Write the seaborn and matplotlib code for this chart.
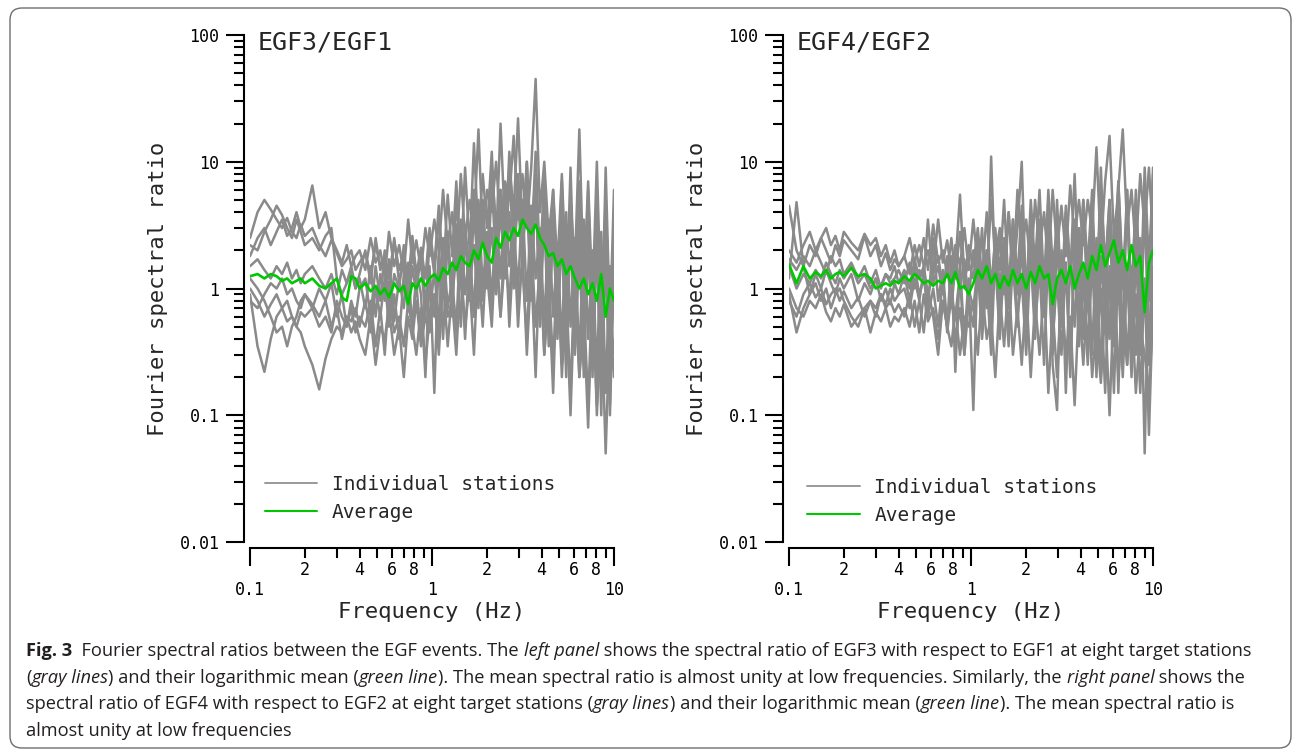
import numpy as np
import pandas as pd
import matplotlib
matplotlib.use("Agg")
import matplotlib.pyplot as plt
import seaborn as sns
from matplotlib.lines import Line2D
from matplotlib.patches import FancyBboxPatch
from matplotlib.transforms import IdentityTransform

# ---- data ----
freq = [0.10, 0.11, 0.12, 0.13, 0.14, 0.15, 0.16, 0.17, 0.18, 0.19, 0.20,
        0.22, 0.24, 0.26, 0.28, 0.30, 0.32, 0.34, 0.36, 0.38, 0.40,
        0.43, 0.46, 0.49, 0.52, 0.55, 0.58, 0.62, 0.66, 0.70, 0.74, 0.78,
        0.82, 0.87, 0.92, 0.97,
        1.03, 1.09, 1.15, 1.22, 1.29, 1.36, 1.44, 1.52, 1.61, 1.70, 1.80,
        1.90, 2.01, 2.13, 2.25, 2.38, 2.52, 2.66, 2.81, 2.97, 3.14, 3.32,
        3.51, 3.71, 3.92, 4.14, 4.38, 4.63, 4.89, 5.17, 5.46, 5.77, 6.10,
        6.45, 6.82, 7.21, 7.62, 8.05, 8.51, 9.00, 9.50, 10.0]

# EGF3 / EGF1, eight stations
egf31_stations = [
    [2.5, 4.0, 5.0, 4.2, 3.5, 3.0, 3.6, 2.8, 2.5, 3.2, 2.6, 3.0, 2.2, 1.8, 2.4, 1.9, 1.5, 1.7, 2.0, 1.4, 1.6,
     1.9, 1.3, 2.2, 1.5, 1.8, 1.2, 2.4, 1.4, 1.9, 1.1, 2.6, 1.3, 2.1, 1.2, 3.0,
     1.5, 4.5, 1.2, 5.5, 1.8, 7.0, 1.5, 9.0, 2.0, 14, 2.5, 8.0, 3.0, 12, 2.2, 20, 3.0, 9.0, 4.0, 22,
     3.0, 10, 2.0, 12, 1.5, 8.0, 1.0, 6.0, 0.8, 7.0, 0.7, 9.0, 0.6, 5.0, 0.5, 6.0, 0.4, 4.0, 0.3, 9.0, 0.5, 3.0],
    [0.9, 0.35, 0.22, 0.4, 0.6, 0.7, 0.55, 0.6, 0.5, 0.65, 0.6, 0.7, 0.5, 0.6, 0.45, 0.8, 0.6, 0.5, 0.7, 0.45, 0.6,
     0.5, 0.8, 0.35, 0.7, 0.3, 0.9, 0.45, 0.6, 0.35, 0.8, 0.5, 0.3, 0.7, 0.25, 0.6,
     0.9, 0.3, 1.2, 0.35, 1.0, 0.5, 1.6, 0.4, 2.0, 0.6, 1.5, 0.5, 2.5, 0.7, 1.8, 0.6, 3.0, 0.5, 2.2, 0.8,
     1.5, 0.4, 2.5, 0.5, 1.6, 0.3, 1.2, 0.25, 1.8, 0.2, 1.0, 0.15, 1.5, 0.2, 0.8, 0.12, 1.2, 0.1, 0.7, 0.05, 0.6, 0.2],
    [1.0, 0.8, 0.6, 0.75, 0.9, 0.7, 0.8, 0.6, 0.5, 0.45, 0.35, 0.25, 0.16, 0.28, 0.4, 0.5, 0.45, 0.6, 0.55, 0.7, 0.5,
     0.8, 0.45, 1.0, 0.6, 1.2, 0.5, 0.9, 0.4, 1.3, 0.7, 0.55, 1.1, 0.4, 0.9, 0.6,
     1.4, 0.5, 2.5, 0.7, 1.2, 0.45, 3.5, 0.9, 2.0, 0.6, 5.0, 1.0, 2.8, 0.8, 4.0, 1.2, 6.0, 1.5, 3.0, 1.0,
     5.0, 0.8, 4.5, 1.2, 3.0, 0.5, 3.5, 0.6, 2.2, 0.35, 4.0, 0.5, 2.5, 0.25, 3.5, 0.4, 2.0, 0.2, 2.8, 0.15, 1.5, 1.0],
    [1.8, 2.5, 3.0, 2.2, 2.8, 3.5, 2.6, 3.0, 4.0, 3.0, 3.5, 6.5, 3.0, 4.0, 2.5, 2.0, 1.6, 2.2, 1.5, 1.8, 2.0,
     1.4, 2.5, 1.6, 2.0, 1.2, 2.8, 1.5, 2.2, 1.3, 3.5, 1.6, 2.4, 1.4, 3.0, 1.8,
     3.5, 2.0, 6.0, 2.2, 4.0, 1.8, 8.0, 2.5, 5.0, 3.0, 18, 2.5, 6.0, 4.0, 10, 3.0, 7.0, 5.0, 16, 3.5,
     8.0, 3.0, 9.0, 45, 4.0, 10, 2.5, 6.0, 1.5, 8.0, 1.2, 5.0, 1.5, 18, 1.0, 7.0, 0.8, 10, 0.6, 5.0, 0.5, 6.0],
    [1.5, 1.7, 1.4, 1.2, 1.5, 1.3, 1.6, 1.2, 1.4, 1.1, 1.3, 1.5, 1.2, 1.0, 1.3, 0.9, 1.4, 1.1, 1.5, 1.0, 1.2,
     0.7, 1.5, 0.6, 1.3, 0.8, 1.7, 0.55, 1.2, 0.7, 1.6, 0.45, 1.4, 0.9, 0.2, 1.5,
     0.15, 2.0, 0.9, 2.8, 0.6, 3.2, 1.1, 2.5, 0.8, 4.0, 1.3, 3.0, 1.0, 7.0, 1.5, 4.0, 1.2, 8.0, 2.0, 5.0,
     1.5, 10, 1.2, 6.0, 0.8, 4.0, 0.5, 3.0, 0.6, 5.0, 0.25, 3.0, 0.4, 4.0, 0.2, 2.5, 0.3, 3.0, 0.15, 2.0, 0.1, 1.5],
    [1.2, 1.0, 0.8, 0.6, 0.45, 0.5, 0.35, 0.5, 0.6, 0.8, 0.9, 0.7, 1.0, 0.8, 1.1, 0.6, 0.9, 0.5, 0.8, 0.6, 1.0,
     1.2, 0.6, 1.5, 0.8, 2.0, 0.6, 1.3, 1.0, 2.2, 0.7, 1.5, 0.9, 2.0, 0.8, 1.3,
     0.6, 1.8, 0.4, 2.5, 0.8, 2.0, 0.5, 3.0, 1.0, 2.2, 0.7, 5.0, 1.2, 3.0, 0.9, 6.0, 1.5, 4.0, 1.0, 8.0,
     2.0, 5.0, 0.8, 7.0, 0.5, 4.0, 0.35, 5.0, 0.4, 3.0, 0.2, 4.0, 0.3, 2.0, 0.25, 3.5, 0.2, 2.5, 0.1, 4.0, 0.12, 2.0],
    [2.2, 2.0, 2.8, 3.5, 4.5, 3.8, 3.0, 2.5, 3.5, 2.8, 2.2, 2.5, 2.0, 2.6, 3.0, 1.2, 0.9, 1.1, 1.4, 1.0, 1.3,
     2.0, 1.1, 2.5, 1.4, 1.9, 0.9, 2.5, 1.1, 1.8, 0.8, 2.0, 1.2, 1.6, 0.6, 2.5,
     1.3, 3.5, 1.6, 2.5, 1.0, 5.0, 1.8, 3.0, 1.4, 6.0, 2.0, 4.0, 1.6, 9.0, 3.0, 6.0, 2.0, 12, 3.0, 7.0,
     2.5, 6.0, 2.0, 9.0, 1.0, 5.0, 0.8, 3.0, 0.5, 6.0, 0.4, 4.0, 0.35, 7.0, 0.3, 3.0, 0.3, 5.0, 0.2, 3.0, 0.25, 4.0],
    [0.8, 0.7, 0.9, 1.1, 1.0, 1.2, 0.9, 1.0, 0.8, 0.7, 0.9, 0.75, 0.6, 0.8, 0.5, 0.7, 0.4, 0.6, 0.45, 0.55, 0.4,
     0.3, 0.6, 0.25, 0.5, 0.4, 0.7, 0.3, 0.5, 0.2, 0.6, 0.4, 0.8, 0.35, 0.6, 0.45,
     0.9, 0.4, 1.2, 0.6, 0.8, 0.3, 1.5, 0.5, 1.1, 0.3, 2.0, 0.8, 1.3, 0.5, 2.5, 0.6, 1.8, 0.8, 3.0, 0.5,
     2.0, 0.3, 1.5, 0.2, 2.0, 0.3, 1.0, 0.15, 1.8, 0.25, 0.8, 0.1, 1.2, 0.2, 0.6, 0.08, 1.0, 0.12, 0.5, 0.2, 0.7, 0.3],
]
egf31_average = [1.25, 1.3, 1.2, 1.3, 1.25, 1.15, 1.2, 1.1, 1.15, 1.2, 1.1, 1.2, 1.05, 1.0, 1.1, 1.2, 0.85, 0.8, 1.25, 1.2, 1.0,
                 1.1, 0.95, 1.05, 0.9, 1.0, 0.85, 1.1, 0.95, 1.05, 0.75, 1.1, 1.0, 1.2, 1.05, 1.2,
                 1.3, 1.15, 1.45, 1.3, 1.6, 1.4, 1.8, 1.6, 1.5, 2.0, 1.7, 2.3, 1.8, 1.6, 2.5, 2.1, 2.8, 2.4, 3.0, 2.6,
                 3.5, 3.0, 2.7, 3.2, 2.5, 2.2, 1.8, 1.9, 1.5, 1.7, 1.3, 1.5, 1.2, 1.0, 1.2, 0.9, 1.1, 0.8, 1.3, 0.6, 1.0, 0.8]

# EGF4 / EGF2, eight stations
egf42_stations = [
    [4.5, 2.0, 1.5, 2.2, 1.8, 2.5, 2.0, 1.6, 2.2, 1.8, 2.4, 2.0, 1.7, 2.6, 1.8, 2.2, 1.5, 1.9, 1.4, 1.7, 1.5,
     1.8, 1.3, 2.2, 1.5, 2.5, 1.4, 3.2, 1.6, 2.0, 1.3, 2.5, 1.2, 2.8, 1.0, 2.2,
     1.5, 3.0, 1.2, 4.0, 1.0, 2.5, 1.4, 5.0, 1.0, 3.5, 1.2, 4.5, 0.8, 3.0, 1.5, 6.0, 1.0, 4.0, 0.6, 5.0,
     0.8, 3.0, 1.2, 8.0, 1.0, 5.0, 1.5, 6.0, 0.7, 9.0, 1.2, 5.0, 0.9, 7.0, 1.0, 6.0, 0.8, 5.0, 0.6, 9.0, 1.5, 8.0],
    [1.2, 4.8, 1.5, 0.9, 1.3, 1.0, 1.4, 1.1, 0.9, 1.2, 1.0, 1.3, 0.8, 1.1, 0.9, 1.2, 0.8, 1.0, 0.75, 1.1, 0.9,
     1.3, 0.8, 1.5, 0.9, 1.2, 0.7, 2.5, 0.8, 1.4, 0.5, 1.8, 0.22, 1.5, 0.4, 1.2,
     0.11, 2.0, 0.8, 1.6, 0.5, 2.5, 0.7, 1.8, 0.4, 3.0, 0.9, 2.0, 0.5, 4.0, 0.8, 2.5, 0.6, 3.0, 0.25, 0.11,
     2.0, 0.15, 1.8, 0.5, 3.0, 0.4, 2.0, 0.3, 2.5, 0.2, 1.8, 0.4, 3.0, 0.15, 2.0, 0.25, 1.5, 0.3, 2.5, 0.05, 1.8, 0.6],
    [0.9, 0.45, 0.7, 0.9, 1.1, 0.8, 1.0, 0.7, 0.9, 1.0, 0.8, 0.6, 0.5, 0.7, 0.8, 0.6, 0.9, 0.7, 0.8, 0.65, 0.75,
     0.6, 0.9, 0.5, 0.8, 0.45, 1.0, 0.6, 0.3, 0.8, 0.5, 0.9, 0.4, 0.7, 0.3, 0.8,
     0.5, 1.5, 0.4, 1.2, 0.3, 2.0, 0.5, 1.4, 0.35, 1.8, 0.6, 1.2, 0.3, 2.2, 0.5, 1.5, 0.25, 2.0, 0.4, 1.2,
     0.3, 1.6, 0.2, 2.0, 0.35, 1.2, 0.25, 1.8, 0.3, 1.0, 0.15, 1.5, 0.35, 1.1, 0.2, 1.4, 0.3, 0.9, 0.15, 1.2, 0.07, 0.8],
    [2.0, 1.6, 2.2, 2.8, 2.0, 2.5, 3.0, 2.2, 2.6, 2.0, 2.8, 2.3, 2.0, 2.7, 2.2, 2.5, 1.8, 2.2, 1.6, 2.0, 1.5,
     1.8, 2.5, 1.6, 2.2, 1.5, 2.0, 1.4, 3.5, 1.6, 2.4, 1.3, 2.2, 1.5, 3.0, 1.4,
     3.5, 1.5, 2.5, 1.2, 5.0, 1.8, 3.0, 1.5, 4.0, 1.2, 6.0, 2.0, 3.5, 1.4, 5.0, 2.0, 4.0, 1.5, 6.0, 2.0,
     4.5, 1.8, 6.5, 2.5, 5.0, 2.2, 5.0, 2.8, 13, 2.0, 7.0, 16, 2.5, 6.0, 18, 3.0, 6.0, 2.0, 8.0, 3.0, 9.0, 2.5],
    [1.5, 1.0, 1.3, 1.1, 1.4, 1.2, 1.6, 1.3, 1.1, 1.4, 1.2, 1.5, 1.1, 1.3, 1.0, 1.2, 1.05, 1.3, 1.1, 1.2, 1.4,
     1.1, 1.6, 1.0, 1.4, 1.2, 3.5, 1.1, 1.5, 0.9, 1.8, 0.7, 1.5, 5.5, 1.2, 1.6,
     1.2, 2.5, 0.9, 2.0, 0.6, 3.0, 1.0, 2.2, 0.7, 3.5, 1.0, 2.5, 0.8, 4.0, 1.2, 2.8, 0.6, 5.0, 1.0, 3.0,
     0.7, 4.0, 1.1, 3.5, 0.5, 4.0, 0.8, 3.0, 0.4, 5.0, 0.6, 3.5, 0.5, 4.0, 0.35, 6.0, 0.4, 3.0, 0.3, 5.0, 0.25, 4.0],
    [0.8, 0.6, 0.9, 1.1, 0.85, 1.0, 0.75, 0.9, 1.0, 0.8, 0.95, 0.7, 0.85, 0.6, 0.8, 0.7, 0.9, 0.75, 1.0, 0.8, 0.9,
     1.0, 0.7, 1.2, 0.8, 1.4, 0.6, 1.0, 0.5, 1.2, 0.45, 0.9, 0.6, 1.3, 0.3, 1.0,
     0.7, 1.5, 0.5, 2.0, 0.8, 1.6, 0.4, 2.5, 0.7, 1.5, 0.5, 2.8, 0.6, 1.8, 0.4, 2.2, 0.7, 1.5, 0.3, 2.5,
     0.5, 1.6, 0.25, 2.2, 0.6, 1.5, 0.3, 2.6, 0.2, 1.8, 0.5, 1.2, 0.15, 2.0, 0.3, 1.4, 0.2, 1.8, 0.4, 1.0, 0.3, 1.5],
    [1.7, 1.4, 1.8, 1.5, 2.0, 1.6, 1.3, 1.8, 1.5, 1.7, 1.3, 1.6, 1.2, 1.5, 1.1, 1.4, 1.0, 1.3, 1.2, 1.5, 1.1,
     1.4, 1.0, 1.7, 1.2, 1.5, 0.9, 1.3, 1.8, 1.0, 1.5, 0.8, 1.9, 1.0, 1.7, 0.8,
     2.0, 1.0, 3.0, 0.7, 11, 1.2, 2.5, 0.9, 4.0, 1.2, 3.0, 10, 0.8, 5.0, 1.5, 3.5, 1.0, 6.0, 1.5, 3.0,
     0.8, 4.5, 1.5, 3.0, 1.2, 5.0, 1.0, 4.0, 0.8, 6.0, 1.5, 5.0, 0.9, 7.0, 1.2, 4.0, 0.7, 6.0, 1.0, 4.5, 0.8, 9.0],
    [1.0, 0.7, 0.6, 0.8, 0.7, 0.9, 0.65, 0.55, 0.7, 0.6, 0.75, 0.5, 0.6, 0.7, 0.45, 0.65, 0.55, 0.7, 0.5, 0.6, 0.55,
     0.7, 0.5, 0.8, 0.45, 0.9, 0.55, 0.7, 0.4, 0.8, 0.5, 0.35, 0.7, 0.3, 0.6, 0.5,
     0.8, 0.3, 1.0, 0.4, 0.6, 0.2, 0.9, 0.35, 1.2, 0.3, 0.7, 0.25, 1.0, 0.2, 0.8, 0.3, 1.1, 0.15, 0.7, 0.2,
     0.9, 0.3, 0.6, 0.12, 0.8, 0.25, 1.0, 0.2, 0.5, 0.18, 0.7, 0.1, 0.9, 0.2, 0.6, 0.25, 0.8, 0.15, 0.5, 0.3, 0.15, 0.6],
]
egf42_average = [1.55, 1.1, 1.5, 1.2, 1.35, 1.25, 1.4, 1.2, 1.3, 1.35, 1.25, 1.45, 1.25, 1.3, 1.2, 1.0, 1.05, 1.1, 1.05, 1.15, 1.1,
                 1.25, 1.15, 1.3, 1.2, 1.1, 1.15, 1.05, 1.15, 1.1, 1.3, 1.1, 1.35, 1.0, 1.05, 0.9,
                 1.1, 1.4, 1.2, 1.5, 1.1, 1.3, 1.0, 1.25, 1.05, 1.4, 1.1, 1.3, 1.0, 1.35, 1.1, 1.5, 1.2, 1.3, 0.75, 1.2,
                 1.4, 1.1, 1.5, 1.0, 1.3, 1.6, 1.2, 1.8, 1.4, 2.2, 1.5, 1.9, 2.4, 1.6, 2.0, 1.4, 2.2, 1.5, 1.8, 0.65, 1.6, 2.0]

panel_titles = ["EGF3/EGF1", "EGF4/EGF2"]
y_ticks = [0.01, 0.1, 1, 10, 100]
y_tick_labels = ["0.01", "0.1", "1", "10", "100"]
x_ticks = [0.1, 1, 10]
x_tick_labels = ["0.1", "1", "10"]
x_minor_ticks = [0.2, 0.3, 0.4, 0.5, 0.6, 0.7, 0.8, 0.9, 2, 3, 4, 5, 6, 7, 8, 9]
x_minor_labels = ["2", "", "4", "", "6", "", "8", "", "2", "", "4", "", "6", "", "8", ""]
y_minor_ticks = [m * d for d in [0.01, 0.1, 1, 10] for m in range(2, 10)]

caption_lines = [
    [("Fig. 3", "bold"), ("  Fourier spectral ratios between the EGF events. The ", "normal"),
     ("left panel", "italic"), (" shows the spectral ratio of EGF3 with respect to EGF1 at eight target stations", "normal")],
    [("(", "normal"), ("gray lines", "italic"), (") and their logarithmic mean (", "normal"), ("green line", "italic"),
     ("). The mean spectral ratio is almost unity at low frequencies. Similarly, the ", "normal"),
     ("right panel", "italic"), (" shows the", "normal")],
    [("spectral ratio of EGF4 with respect to EGF2 at eight target stations (", "normal"), ("gray lines", "italic"),
     (") and their logarithmic mean (", "normal"), ("green line", "italic"), ("). The mean spectral ratio is", "normal")],
    [("almost unity at low frequencies", "normal")],
]

GRAY = "#8a8a8a"
GREEN = "#00c800"

sns.set_style("ticks")
plt.rcParams['font.family'] = ['DejaVu Sans Mono']
plt.rcParams['axes.edgecolor'] = 'black'
plt.rcParams['xtick.color'] = 'black'
plt.rcParams['ytick.color'] = 'black'


def long_form(stations):
    rows = []
    for s, vals in enumerate(stations):
        for f, v in zip(freq, vals):
            rows.append((f, v, s + 1))
    return pd.DataFrame(rows, columns=["Frequency", "Ratio", "Station"])


fig = plt.figure(figsize=(12.93, 7.49), dpi=100)
W, H = 1293, 749
panels = [(egf31_stations, egf31_average, 250), (egf42_stations, egf42_average, 789)]

for pp, (stations, avg, x0) in enumerate(panels):
    ax = fig.add_axes([x0 / W, (H - 542) / H, 364 / W, 507 / H])
    df = long_form(stations)
    sns.lineplot(data=df, x="Frequency", y="Ratio", units="Station", estimator=None,
                 color=GRAY, linewidth=1.8, ax=ax, legend=False)
    sns.lineplot(x=freq, y=avg, color=GREEN, linewidth=1.9, ax=ax, legend=False)
    ax.set_xscale('log')
    ax.set_yscale('log')
    ax.set_xlim(0.1, 10)
    ax.set_ylim(0.01, 100)

    ax.set_yticks(y_ticks)
    ax.set_yticklabels(y_tick_labels)
    ax.set_yticks(y_minor_ticks, minor=True)
    ax.set_yticklabels([], minor=True)
    ax.set_xticks(x_ticks)
    ax.set_xticklabels(x_tick_labels)
    ax.set_xticks(x_minor_ticks, minor=True)
    ax.set_xticklabels(x_minor_labels, minor=True)

    ax.tick_params(axis='y', which='major', length=13, width=1.5, pad=5, labelsize=12, direction='out')
    ax.tick_params(axis='y', which='minor', length=7, width=1.5, direction='out')
    ax.tick_params(axis='x', which='major', length=13, width=1.5, pad=11, labelsize=12, direction='out')
    ax.tick_params(axis='x', which='minor', length=7, width=1.5, pad=3, labelsize=12, direction='out')

    for side in ['top', 'right']:
        ax.spines[side].set_visible(False)
    for side in ['left', 'bottom']:
        ax.spines[side].set_linewidth(1.5)
        ax.spines[side].set_position(('outward', 4))
    ax.grid(False)

    ax.set_xlabel("Frequency (Hz)", fontsize=16)
    ax.set_ylabel("Fourier spectral ratio", fontsize=16)
    ax.xaxis.set_label_coords(0.5, -0.118)
    ax.yaxis.set_label_coords(-0.225, 0.5)

    ax.text(0.022, 1.008, panel_titles[pp], transform=ax.transAxes, fontsize=18,
            ha='left', va='top')

    handles = [Line2D([], [], color="#999999", lw=1.4),
               Line2D([], [], color=GREEN, lw=1.5)]
    ax.legend(handles, ["Individual stations", "Average"], loc='lower left',
              bbox_to_anchor=(0.04 if pp == 0 else 0.05, 0.04 if pp == 0 else 0.034),
              frameon=False, fontsize=14, handlelength=2.7, handletextpad=0.75,
              labelspacing=0.45, borderpad=0, borderaxespad=0)

# rounded border around figure + caption
box = FancyBboxPatch((10, 1), 1281, 740, boxstyle="round,pad=0,rounding_size=12",
                     transform=IdentityTransform(), fc='none', ec='#6e6e6e', lw=1.0)
fig.add_artist(box)

# caption with mixed styles
renderer = fig.canvas.get_renderer()
cap_family = ['Open Sans', 'DejaVu Sans']


def draw_runs(x, y, runs, size):
    for text, style in runs:
        t = fig.text(x, y, text, transform=IdentityTransform(), fontsize=size,
                     family=cap_family, color='#231f20', va='baseline', ha='left',
                     weight='bold' if style == 'bold' else 'normal',
                     style='italic' if style == 'italic' else 'normal')
        x += t.get_window_extent(renderer).width
    return x


# fit font size so first line spans as in the picture
probe = fig.text(0, 0, "".join(r[0] for r in caption_lines[0]), fontsize=12,
                 family=cap_family, transform=IdentityTransform())
w12 = probe.get_window_extent(renderer).width
probe.remove()
cap_size = 12 * 1222 / w12

baselines = [656, 683, 709, 736]
for line, yb in zip(caption_lines, baselines):
    draw_runs(26, H - yb, line, cap_size)

fig.savefig("out.png", dpi=100)
